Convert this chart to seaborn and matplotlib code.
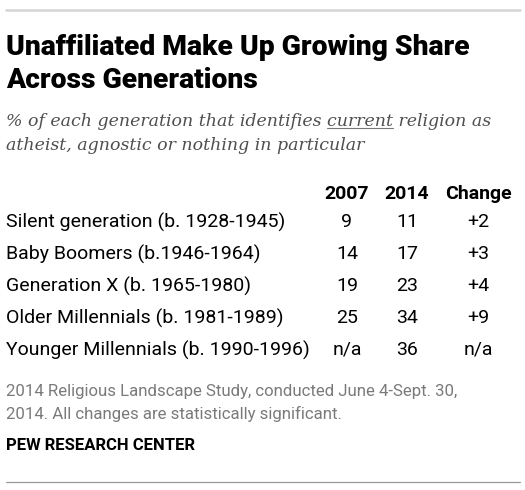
import matplotlib
matplotlib.use("Agg")
import matplotlib.pyplot as plt
import seaborn as sns
import numpy as np

# ---- data ----
title_lines = ["Unaffiliated Make Up Growing Share", "Across Generations"]
subtitle_pre = "% of each generation that identifies "
subtitle_ul = "current"
subtitle_post = " religion as"
subtitle_line2 = "atheist, agnostic or nothing in particular"
columns = ["2007", "2014", "Change"]
generations = [
    "Silent generation (b. 1928-1945)",
    "Baby Boomers (b.1946-1964)",
    "Generation X (b. 1965-1980)",
    "Older Millennials (b. 1981-1989)",
    "Younger Millennials (b. 1990-1996)",
]
values_2007 = ["9", "14", "19", "25", "n/a"]
values_2014 = ["11", "17", "23", "34", "36"]
values_change = ["+2", "+3", "+4", "+9", "n/a"]
note_lines = ["2014 Religious Landscape Study, conducted June 4-Sept. 30,",
              "2014. All changes are statistically significant."]
source = "PEW RESEARCH CENTER"

sns.set_theme(style="white")
plt.rcParams['font.family'] = ['Roboto', 'DejaVu Sans']

W, H = 525, 490
fig = plt.figure(figsize=(W / 100, H / 100), dpi=100)
fig.patch.set_facecolor("white")

def fy(px):
    return 1 - px / H

def fx(px):
    return px / W

# top / bottom rules
fig.add_artist(plt.Line2D([fx(6), fx(520)], [fy(10), fy(10)], color="#d4d4d4", lw=1.8))
fig.add_artist(plt.Line2D([fx(6), fx(520)], [fy(482), fy(482)], color="#9a9a9a", lw=0.9))

# title
for i, line in enumerate(title_lines):
    fig.text(fx(6), fy(55 + i * 33), line, fontsize=20.3, fontweight="heavy",
             color="black", ha="left", va="baseline")

# subtitle (italic serif)
sub_kw = dict(fontsize=12.5, style="italic", color="#4f4f4f", family="DejaVu Serif",
              ha="left", va="baseline")
full1 = subtitle_pre + subtitle_ul + subtitle_post
t1 = fig.text(fx(6), fy(125.5), full1, **sub_kw)
fig.text(fx(6), fy(149.5), subtitle_line2, **sub_kw)
fig.canvas.draw()
r = fig.canvas.get_renderer()
tmp_a = fig.text(0, 0, subtitle_pre + subtitle_ul, **sub_kw)
tmp_b = fig.text(0, 0, subtitle_ul, **sub_kw)
wa = tmp_a.get_window_extent(r).width
wb = tmp_b.get_window_extent(r).width
tmp_a.remove(); tmp_b.remove()
x0 = 6 + wa - wb
x1 = 6 + wa
fig.add_artist(plt.Line2D([fx(x0), fx(x1)], [fy(128.5), fy(128.5)], color="#777777", lw=0.8))

# table axes: x in pixel-like units, y in row index
ax = fig.add_axes([0, fy(366), 1, 192 / H])
ax.set_xlim(0, W)
ax.set_ylim(4.5, -1.5)
ax.axis("off")

col_x = [347, 407, 478]
for cx, c in zip(col_x, columns):
    ax.text(cx, -0.88, c, ha="center", va="center", fontsize=14, fontweight="bold", color="black")

rows = list(zip(generations, values_2007, values_2014, values_change))
for i, (g, a, b, c) in enumerate(rows):
    ax.text(6, i, g, ha="left", va="center", fontsize=14, color="black")
    for cx, v in zip(col_x, (a, b, c)):
        ax.text(cx, i, v, ha="center", va="center", fontsize=14, color="black")

# note and source
for i, line in enumerate(note_lines):
    fig.text(fx(6), fy(396 + i * 23), line, fontsize=12.1, color="#7a7a7a",
             ha="left", va="baseline")
fig.text(fx(6), fy(450), source, fontsize=12, fontweight="bold", color="black",
         ha="left", va="baseline")

fig.savefig("out.png", dpi=100, facecolor="white")
